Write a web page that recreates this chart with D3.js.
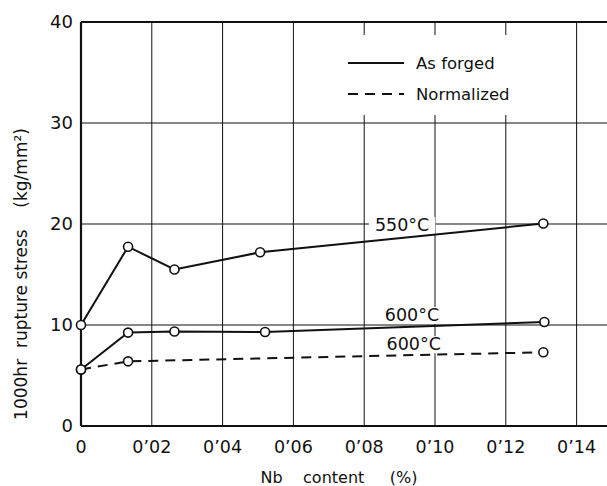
<!DOCTYPE html>
<html>
<head>
<meta charset="utf-8">
<script src="https://d3js.org/d3.v7.min.js"></script>
<style>
  body { margin: 0; background: #fff; }
  text { font-family: "DejaVu Sans", sans-serif; fill: #111; }
</style>
</head>
<body>
<svg id="chart" width="607" height="486"></svg>
<script>
// data
const nb550 = [0, 0.0133, 0.0264, 0.0506, 0.1306];
const stress550 = [10.0, 17.75, 15.5, 17.2, 20.05];
const nb600 = [0, 0.0133, 0.0264, 0.052, 0.1309];
const stress600 = [5.6, 9.25, 9.35, 9.3, 10.3];
const nbNorm = [0, 0.0133, 0.1306];
const stressNorm = [5.6, 6.4, 7.3];

const xTicks = [0, 0.02, 0.04, 0.06, 0.08, 0.10, 0.12, 0.14];
const xTickLabels = ["0", "0’02", "0’04", "0’06", "0’08", "0’10", "0’12", "0’14"];
const yTicks = [0, 10, 20, 30, 40];

// curve labels: [text, x, y]
const curveLabels = [["550°C", 0.0907, 19.3], ["600°C", 0.0935, 10.4], ["600°C", 0.094, 7.5]];
const legendItems = [["As forged", null], ["Normalized", "10,7"]];

const svg = d3.select("#chart");
svg.append("rect").attr("width", 607).attr("height", 486).attr("fill", "#fff");

const x = d3.scaleLinear().domain([0, 0.15]).range([81, 612]);
const y = d3.scaleLinear().domain([0, 40]).range([426, 22]);

// grid
const grid = svg.append("g").attr("stroke", "#111").attr("stroke-width", 1);
grid.selectAll("line.v").data(xTicks.slice(1)).join("line")
    .attr("x1", d => x(d)).attr("x2", d => x(d))
    .attr("y1", y(0)).attr("y2", y(40));
grid.selectAll("line.h").data([10, 20, 30]).join("line")
    .attr("x1", x(0)).attr("x2", 607)
    .attr("y1", d => y(d)).attr("y2", d => y(d));

// frame
const frame = svg.append("g").attr("stroke", "#111").attr("stroke-width", 2.2);
frame.append("line").attr("x1", x(0)).attr("x2", 607).attr("y1", y(0)).attr("y2", y(0));
frame.append("line").attr("x1", x(0)).attr("x2", 607).attr("y1", y(40)).attr("y2", y(40));
frame.append("line").attr("x1", x(0)).attr("x2", x(0)).attr("y1", y(0)).attr("y2", y(40));

// legend box (white patch over grid)
svg.append("rect").attr("x", 340).attr("y", 35).attr("width", 173).attr("height", 80).attr("fill", "#fff");
const legend = svg.append("g");
legendItems.forEach((d, i) => {
  const ly = 63 + i * 31;
  legend.append("line").attr("x1", 348).attr("x2", 404).attr("y1", ly).attr("y2", ly)
      .attr("stroke", "#111").attr("stroke-width", 2)
      .attr("stroke-dasharray", d[1]);
  legend.append("text").attr("x", 416).attr("y", ly + 6).attr("font-size", 16.5).text(d[0]);
});

// curve labels with white backing
const labelG = svg.append("g");
curveLabels.forEach(d => {
  const t = labelG.append("text").attr("x", x(d[1])).attr("y", y(d[2]))
      .attr("text-anchor", "middle").attr("font-size", 17.5).text(d[0]);
  const b = t.node().getBBox();
  labelG.insert("rect", () => t.node()).attr("x", b.x - 6).attr("y", b.y + 2)
      .attr("width", b.width + 12).attr("height", b.height - 3).attr("fill", "#fff");
});

// series
const line = d3.line().x(d => x(d[0])).y(d => y(d[1]));
const series = [
  [d3.zip(nb550, stress550), null],
  [d3.zip(nb600, stress600), null],
  [d3.zip(nbNorm, stressNorm), "10,7"]
];
series.forEach(s => {
  svg.append("path").datum(s[0]).attr("d", line)
      .attr("fill", "none").attr("stroke", "#111").attr("stroke-width", 2)
      .attr("stroke-dasharray", s[1]);
});
series.forEach(s => {
  svg.append("g").selectAll("circle").data(s[0]).join("circle")
      .attr("cx", d => x(d[0])).attr("cy", d => y(d[1])).attr("r", 4.5)
      .attr("fill", "#fff").attr("stroke", "#111").attr("stroke-width", 1.6);
});

// tick labels
svg.append("g").selectAll("text").data(yTicks).join("text")
    .attr("x", 73).attr("y", d => y(d) + 6).attr("text-anchor", "end")
    .attr("font-size", 18).text(d => d);
svg.append("g").selectAll("text").data(xTicks).join("text")
    .attr("x", d => x(d)).attr("y", 453).attr("text-anchor", "middle")
    .attr("font-size", 17.5).text((d, i) => xTickLabels[i]);

// axis titles
svg.append("text").attr("x", 339).attr("y", 483).attr("text-anchor", "middle")
    .attr("font-size", 16).attr("xml:space", "preserve").text("Nb    content     (%)");
svg.append("text").attr("transform", "translate(27,274) rotate(-90)")
    .attr("text-anchor", "middle").attr("font-size", 17)
    .attr("xml:space", "preserve").text("1000hr  rupture stress    (kg/mm²)");
</script>
</body>
</html>
